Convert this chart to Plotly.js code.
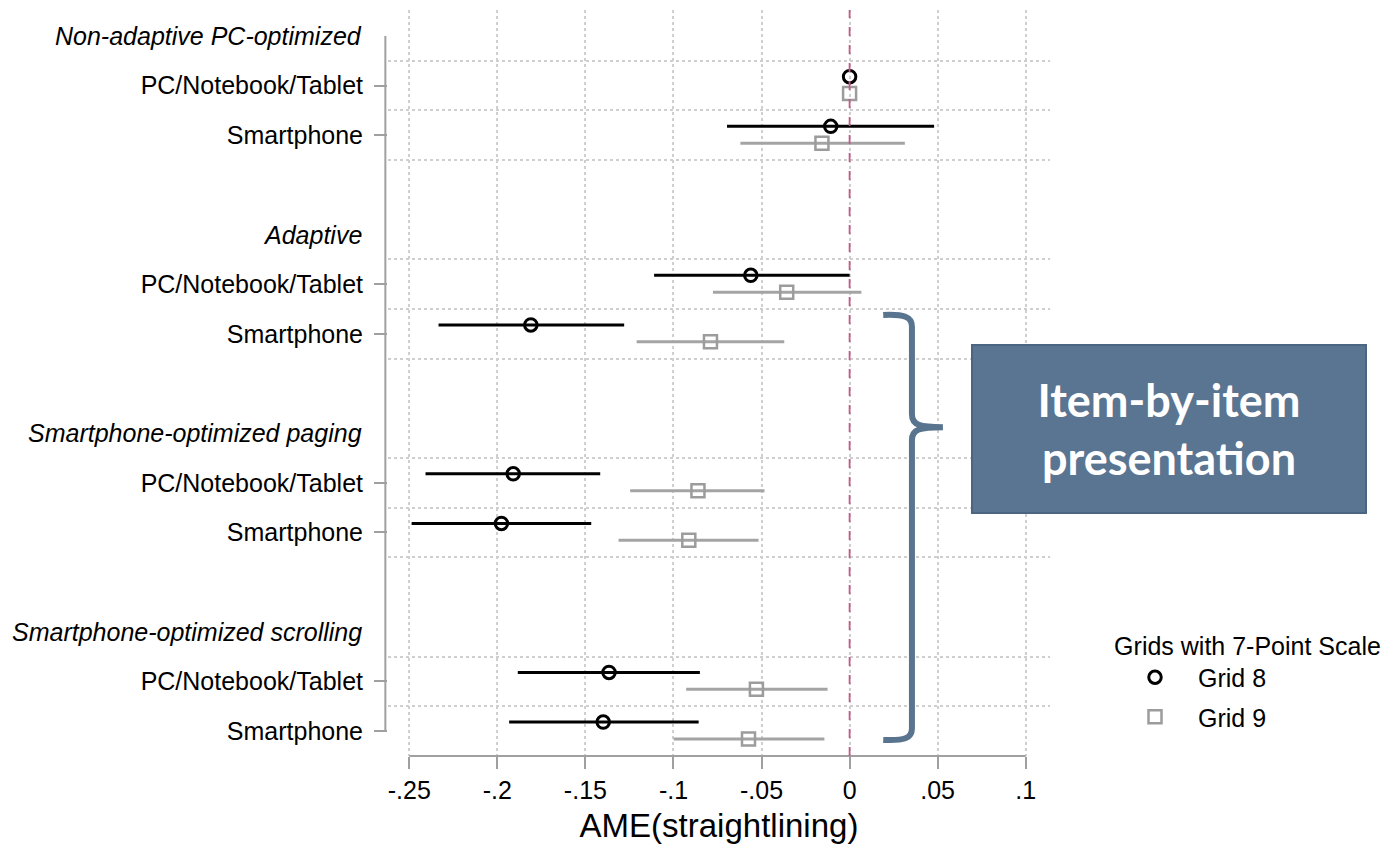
<!DOCTYPE html>
<html>
<head>
<meta charset="utf-8">
<script src="https://cdn.plot.ly/plotly-3.0.1.min.js"></script>
<style>html,body{margin:0;padding:0;background:#fff;}#chart{width:1386px;height:847px;}</style>
</head>
<body>
<div id="chart"></div>
<script>
// ---- data ----
const groups = ['Non-adaptive PC-optimized', 'Adaptive', 'Smartphone-optimized paging', 'Smartphone-optimized scrolling'];
const devices = ['PC/Notebook/Tablet', 'Smartphone'];
const seriesNames = ['Grid 8', 'Grid 9'];
const legendTitle = 'Grids with 7-Point Scale';
const xTitle = 'AME(straightlining)';
const xTickVals = [-0.25, -0.2, -0.15, -0.1, -0.05, 0, 0.05, 0.1];
const xTickText = ['-.25', '-.2', '-.15', '-.1', '-.05', '0', '.05', '.1'];
// rows: group x device (PC, Smartphone)
const grid8Est = [0, -0.0107, -0.0561, -0.181, -0.191, -0.1977, -0.1366, -0.1399];
const grid8Lo  = [0, -0.0696, -0.111, -0.2334, -0.2408, -0.2487, -0.1884, -0.1933];
const grid8Hi  = [0, 0.048, 0.0, -0.128, -0.1416, -0.1467, -0.085, -0.0857];
const grid9Est = [0, -0.0157, -0.0357, -0.079, -0.0861, -0.0913, -0.0529, -0.0574];
const grid9Lo  = [0, -0.062, -0.0776, -0.1209, -0.1246, -0.1312, -0.0928, -0.0999];
const grid9Hi  = [0, 0.0314, 0.0067, -0.0371, -0.0483, -0.0517, -0.0125, -0.0143];
const boxText = 'Item-by-item<br>presentation';

// ---- positions ----
const headerPos = groups.map((g, i) => 4 * i);
const rowPos = [], rowText = [];
groups.forEach((g, i) => devices.forEach((d, j) => { rowPos.push(4 * i + 1 + j); rowText.push(d); }));
const gridPos = [];
rowPos.forEach(p => { [p - 0.5, p + 0.5].forEach(v => { if (!gridPos.includes(v)) gridPos.push(v); }); });

const off8 = -0.18, off9 = 0.16;
const FONT = 'Liberation Sans, Arial, sans-serif';

const traces = [
  {
    type: 'scatter', mode: 'markers', name: seriesNames[0], legendgroup: 'g8',
    x: grid8Est, y: rowPos.map(p => p + off8),
    marker: { symbol: 'circle-open', size: 12.5, color: '#000', line: { width: 3, color: '#000' } },
    error_x: { type: 'data', symmetric: false,
      array: grid8Hi.map((h, i) => h - grid8Est[i]),
      arrayminus: grid8Lo.map((l, i) => grid8Est[i] - l),
      color: '#000', thickness: 3, width: 0 },
    hoverinfo: 'x'
  },
  {
    type: 'scatter', mode: 'markers', name: seriesNames[1], legendgroup: 'g9',
    x: grid9Est, y: rowPos.map(p => p + off9),
    marker: { symbol: 'square-open', size: 13, color: '#9c9c9c', line: { width: 2.5, color: '#9c9c9c' } },
    error_x: { type: 'data', symmetric: false,
      array: grid9Hi.map((h, i) => h - grid9Est[i]),
      arrayminus: grid9Lo.map((l, i) => grid9Est[i] - l),
      color: '#a4a4a4', thickness: 3, width: 0 },
    hoverinfo: 'x'
  }
];

const L = 388, R = 1050, T = 10, B = 756, W = 1386, H = 847;
const pxToPaperX = px => (px - L) / (R - L);
const pxToPaperY = py => (B - py) / (B - T);

const yRange = [14.504, -0.524];

const headerAnnotations = groups.map((g, i) => ({
  xref: 'paper', yref: 'y', x: 0, y: headerPos[i], xanchor: 'right', yanchor: 'middle',
  xshift: -24, text: '<i>' + g + '</i>', showarrow: false,
  font: { family: FONT, size: 25, color: '#000' }
}));

const layout = {
  width: W, height: H,
  margin: { l: L, r: W - R, t: T, b: H - B, pad: 0, autoexpand: false },
  paper_bgcolor: '#fff', plot_bgcolor: '#fff',
  font: { family: FONT, size: 25, color: '#000' },
  showlegend: true,
  legend: {
    x: pxToPaperX(1112), y: pxToPaperY(622), xanchor: 'left', yanchor: 'top',
    title: { text: legendTitle, side: 'top center', font: { size: 25, family: FONT } },
    font: { size: 25, family: FONT }, bgcolor: 'rgba(0,0,0,0)', itemwidth: 76,
    traceorder: 'grouped', tracegroupgap: 4
  },
  xaxis: {
    range: [-0.2621, 0.1138], tickvals: xTickVals, ticktext: xTickText,
    ticks: 'outside', ticklen: 12, tickwidth: 2, tickcolor: '#a0a0a0',
    showgrid: true, gridcolor: '#cfcfcf', gridwidth: 1.5, griddash: 'dot',
    zeroline: false, showline: false,
    tickfont: { size: 25, family: FONT },
    title: { text: xTitle, font: { size: 33, family: FONT }, standoff: 10 },
    fixedrange: true
  },
  yaxis: {
    range: yRange, tickvals: rowPos, ticktext: rowText,
    ticks: 'outside', ticklen: 13, tickwidth: 2, tickcolor: '#a0a0a0',
    ticklabelstandoff: 6,
    showgrid: false, zeroline: false, showline: false,
    minor: { tickvals: gridPos, ticks: '', showgrid: true, gridcolor: '#cfcfcf', gridwidth: 1.5, griddash: 'dot' },
    tickfont: { size: 25, family: FONT },
    fixedrange: true
  },
  shapes: [
    // y axis line from first to last category
    { type: 'line', xref: 'paper', yref: 'y', x0: -0.004, x1: -0.004, y0: headerPos[0], y1: rowPos[rowPos.length - 1],
      line: { color: '#a0a0a0', width: 2 } },
    // x axis line spanning the tick range
    { type: 'line', xref: 'x', yref: 'paper', x0: xTickVals[0], x1: xTickVals[xTickVals.length - 1], y0: 0, y1: 0,
      line: { color: '#a0a0a0', width: 2 } },
    // reference line at zero
    { type: 'line', xref: 'x', yref: 'paper', x0: 0, x1: 0, y0: 0, y1: 1,
      line: { color: '#c25b8c', width: 1.8, dash: 'dash' } },
    // curly brace
    { type: 'path', xref: 'x', yref: 'y',
      path: 'M 0.0191 5.62 C 0.031 5.60 0.0354 5.66 0.0354 5.85 L 0.0354 7.62 C 0.0354 7.84 0.040 7.88 0.053 7.88 C 0.040 7.88 0.0354 7.92 0.0354 8.14 L 0.0354 13.95 C 0.0354 14.15 0.031 14.20 0.0191 14.18',
      line: { color: '#58748f', width: 6 }, fillcolor: 'rgba(0,0,0,0)' }
  ],
  annotations: headerAnnotations.concat([
    { xref: 'paper', yref: 'paper', x: pxToPaperX(1169), y: pxToPaperY(429), xanchor: 'center', yanchor: 'middle',
      text: '<b>' + boxText + '</b>', showarrow: false,
      font: { family: 'Lato, Open Sans, sans-serif', size: 45, color: '#fff' },
      bgcolor: '#5a7591', bordercolor: '#4a6682', borderwidth: 2, borderpad: 0,
      width: 392, height: 166, align: 'center' }
  ])
};

Plotly.newPlot('chart', traces, layout, { displayModeBar: false });
</script>
</body>
</html>
